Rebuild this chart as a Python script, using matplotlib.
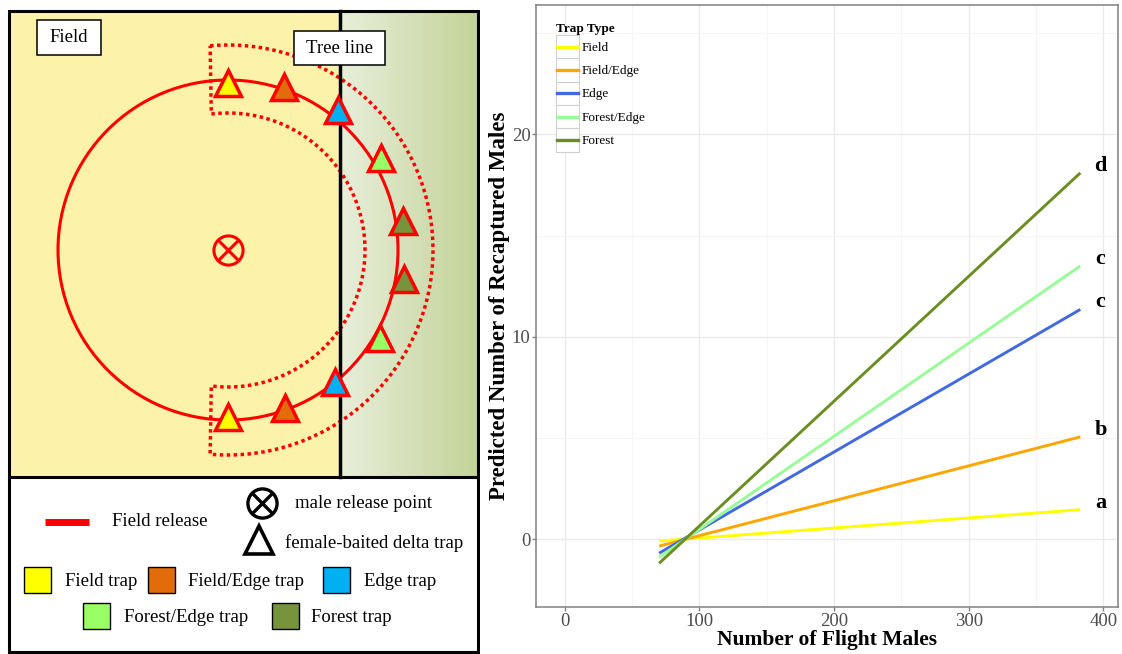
import numpy as np
import matplotlib
matplotlib.use('Agg')
import matplotlib.pyplot as plt
from matplotlib.patches import Rectangle, Circle
from matplotlib.lines import Line2D
from matplotlib.legend_handler import HandlerBase

plt.rcParams['font.family'] = ['Liberation Serif', 'DejaVu Serif']

# fitted lines: predicted recaptures at the lowest and highest flight counts
trap_types = ['Field', 'Field/Edge', 'Edge', 'Forest/Edge', 'Forest']
line_colors = ['#ffff00', '#ffa500', '#4169e1', '#98fb98', '#6b8e23']
flight_males = [70, 383]
pred_start = [-0.1, -0.35, -0.7, -0.9, -1.2]
pred_end = [1.45, 5.05, 11.35, 13.5, 18.1]
group_letters = ['a', 'b', 'c', 'c', 'd']

# field layout: traps placed around the release circle (angle in degrees, radius in px)
trap_angles = [90, 71, 52, 31, 9.5, -9.5, -30, -51, -70, -90]
trap_radii = [167, 172, 178, 179, 177, 178, 175, 170, 168, 167]
trap_kinds = [0, 1, 2, 3, 4, 4, 3, 2, 1, 0]
trap_fill = ['#ffff00', '#e36c0a', '#00b0f0', '#99ff66', '#77933c']
trap_labels = ['Field trap', 'Field/Edge trap', 'Edge trap', 'Forest/Edge trap', 'Forest trap']

fig = plt.figure(figsize=(11.22, 6.54), dpi=100)

# ---------------- left: diagram drawn in pixel units ----------------
axd = fig.add_axes([0, 0, 480 / 1122, 1])
axd.set_xlim(0, 480)
axd.set_ylim(654, 0)
axd.axis('off')

axd.add_patch(Rectangle((9, 11), 331, 466, fc='#fcf2aa', ec='none', zorder=0))
c0 = np.array([0.91, 0.935, 0.855])
c1 = np.array([0.765, 0.825, 0.595])
t = np.linspace(0, 1, 200)[None, :, None]
grad = c0 + (c1 - c0) * t
axd.imshow(grad, extent=(340, 478, 477, 11), aspect='auto', zorder=0)
axd.set_xlim(0, 480)
axd.set_ylim(654, 0)

cx, cy = 228, 250
axd.add_patch(Circle((cx, cy), 170, fill=False, ec='red', lw=2.2, zorder=2))

# dotted sector around the forest side of the circle
r_out, r_in = 205, 137
a_out = np.radians(np.linspace(95, -95, 200))
a_in = np.radians(np.linspace(-97, 97, 200))
sx = np.concatenate([cx + r_out * np.cos(a_out), cx + r_in * np.cos(a_in), [cx + r_out * np.cos(a_out[0])]])
sy = np.concatenate([cy - r_out * np.sin(a_out), cy - r_in * np.sin(a_in), [cy - r_out * np.sin(a_out[0])]])
axd.plot(sx, sy, color='red', lw=2.5, ls=(0, (1, 1)), zorder=2)

# tree line
axd.plot([340, 340], [11, 477], color='black', lw=2.5, zorder=3)

for ang, rad, k in zip(trap_angles, trap_radii, trap_kinds):
    a = np.radians(ang)
    axd.plot(cx + rad * np.cos(a), cy - rad * np.sin(a), marker='^', ms=19,
             mfc=trap_fill[k], mec='red', mew=2.5, ls='none', zorder=5)

axd.plot(cx, cy, 'o', ms=21, mfc='none', mec='red', mew=2.2, zorder=5)
axd.plot(cx, cy, 'x', ms=14, mec='red', mew=2.2, zorder=5)

axd.add_patch(Rectangle((37, 20), 64, 35, fc='white', ec='black', lw=1.1, zorder=6))
axd.text(69, 38, 'Field', fontsize=13.5, ha='center', va='center', zorder=7)
axd.add_patch(Rectangle((294, 31), 91, 34, fc='white', ec='black', lw=1.1, zorder=6))
axd.text(339.5, 48.5, 'Tree line', fontsize=13.5, ha='center', va='center', zorder=7)

# outer frame and separator
axd.add_patch(Rectangle((9, 11), 469, 641, fill=False, ec='black', lw=2.2, zorder=8))
axd.plot([9, 478], [477, 477], color='black', lw=2.2, zorder=8)

# key underneath the map
axd.plot([45, 89], [522, 522], color='red', lw=5, solid_capstyle='butt')
axd.text(112, 522, 'Field release', fontsize=13.5, va='center')
axd.plot(262, 503, 'o', ms=21, mfc='none', mec='black', mew=2.4)
axd.plot(262, 503, 'x', ms=14, mec='black', mew=2.4)
axd.text(295, 504, 'male release point', fontsize=13.5, va='center')
axd.plot(259, 540, '^', ms=20, mfc='white', mec='black', mew=2.6)
axd.text(285, 543, 'female-baited delta trap', fontsize=13.5, va='center')

sq_left = [24, 148, 323, 83, 272]
sq_top = [567, 567, 567, 603, 603]
txt_left = [65, 188, 364, 124, 311]
for k in range(5):
    axd.add_patch(Rectangle((sq_left[k], sq_top[k]), 27, 26, fc=trap_fill[k], ec='black', lw=1.0))
    axd.text(txt_left[k], sq_top[k] + 14, trap_labels[k], fontsize=13.5, va='center')

# ---------------- right: regression lines ----------------
ax = fig.add_axes([536 / 1122, (654 - 607) / 654, (1118 - 536) / 1122, (607 - 5) / 654])

handles = []
for i in range(len(trap_types)):
    h, = ax.plot(flight_males, [pred_start[i], pred_end[i]], color=line_colors[i],
                 lw=2.1, label=trap_types[i], solid_capstyle='butt')
    handles.append(h)
    ax.text(398, pred_end[i] + 0.35, group_letters[i], fontsize=16, fontweight='bold',
            ha='center', va='center')

ax.set_xlim(-21.5, 411)
ax.set_ylim(-3.36, 26.4)
ax.set_xticks([0, 100, 200, 300, 400])
ax.set_yticks([0, 10, 20])
ax.set_xticks([50, 150, 250, 350], minor=True)
ax.set_yticks([5, 15, 25], minor=True)
ax.grid(True, which='major', color='#ebebeb', lw=1.0)
ax.grid(True, which='minor', color='#f5f5f5', lw=0.8)
ax.set_axisbelow(True)
for sp in ax.spines.values():
    sp.set_color('#808080')
    sp.set_linewidth(1.1)
ax.tick_params(which='major', length=3, width=1, color='#808080', labelcolor='#4d4d4d',
               labelsize=13.5, pad=1)
ax.tick_params(which='minor', length=0)

ax.set_xlabel('Number of Flight Males', fontsize=15.5, fontweight='bold')
ax.xaxis.set_label_coords(0.5, (607 - 630) / 602)
ax.set_ylabel('Predicted Number of Recaptured Males', fontsize=16.5, fontweight='bold')
ax.yaxis.set_label_coords((510 - 536) / 582, 0.5)


class KeyBox(HandlerBase):
    # white legend cell with a grey frame and a centred line
    def create_artists(self, legend, orig_handle, xdescent, ydescent,
                       width, height, fontsize, trans):
        x0, y0 = -xdescent, -ydescent
        cell = Rectangle((x0, y0), width, height, facecolor='white',
                         edgecolor='#d0d0d0', lw=0.8, transform=trans)
        yc = y0 + height / 2
        seg = Line2D([x0 + 1, x0 + width - 1], [yc, yc],
                     color=orig_handle.get_color(), lw=2.4, transform=trans)
        return [cell, seg]


ax.legend(handles, trap_types, title='Trap Type', loc='upper left',
          bbox_to_anchor=(556 / 1122, 1 - 23 / 654), bbox_transform=fig.transFigure,
          frameon=False, fontsize=9.5, title_fontproperties={'weight': 'bold', 'size': 9.5},
          handler_map={Line2D: KeyBox()}, handlelength=1.74, handleheight=2.34,
          handletextpad=0.2, labelspacing=0, borderpad=0, borderaxespad=0,
          alignment='left')

fig.savefig('out.png', dpi=100)
